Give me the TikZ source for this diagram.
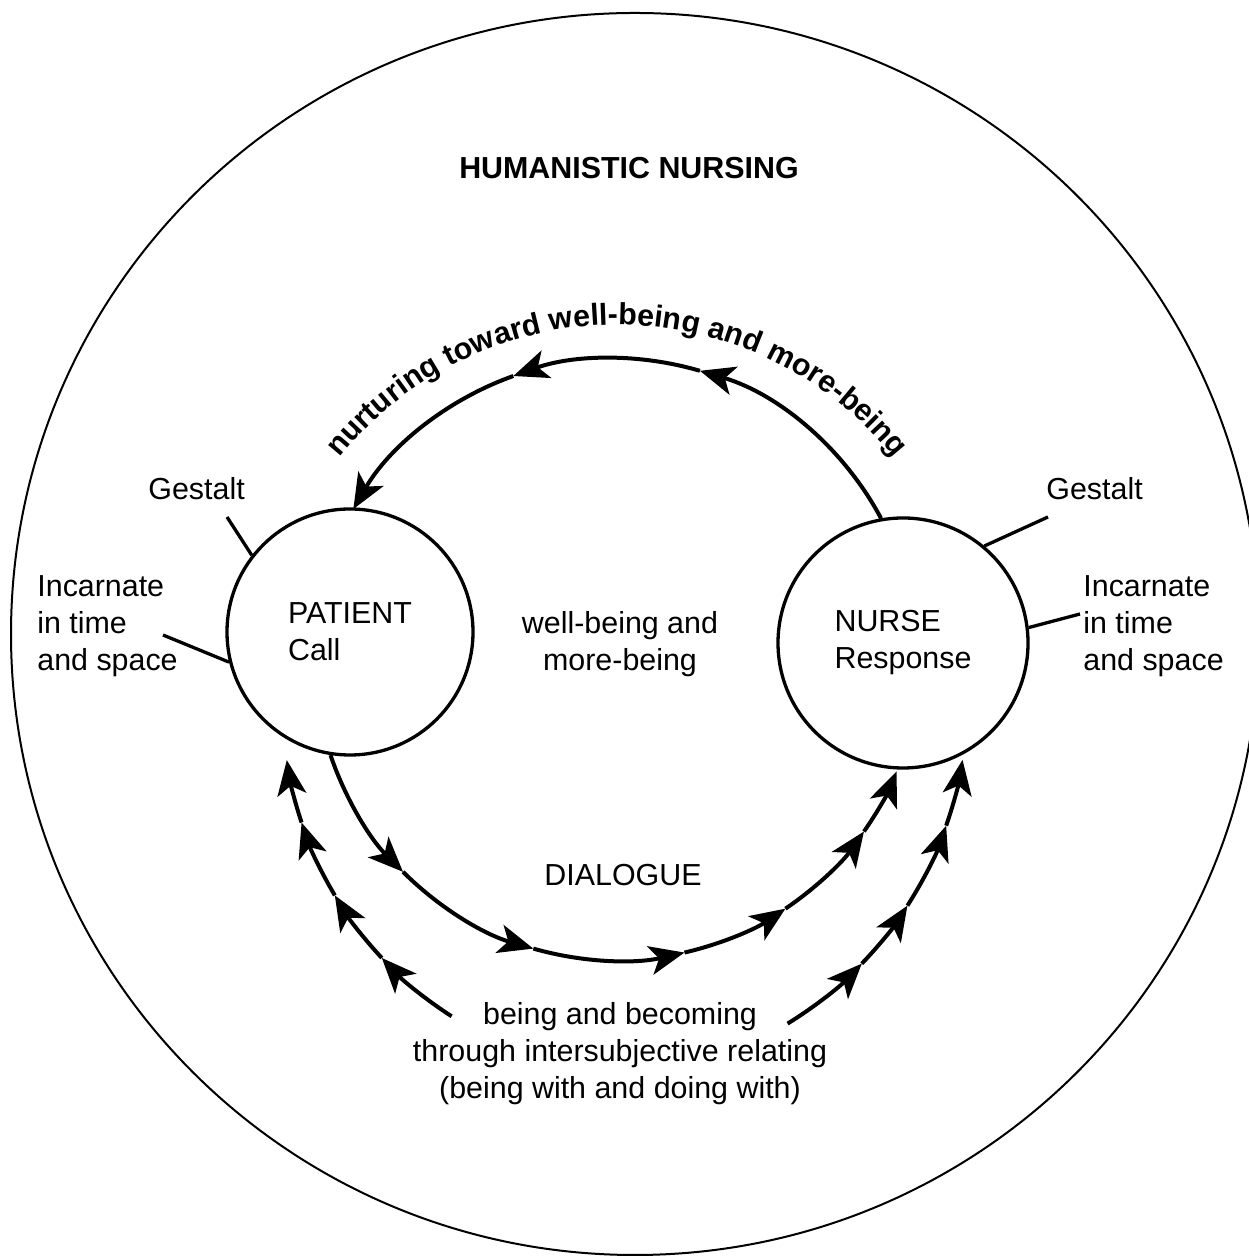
\documentclass[tikz,border=0pt]{standalone}
\usepackage{fontspec}
\setmainfont{Liberation Sans}
\usetikzlibrary{arrows.meta,decorations.text,calc}
\tikzset{
  lbl/.style={font=\fontsize{15.2}{18.5}\selectfont, inner sep=0pt},
  bubble/.style={circle, draw, line width=1.65pt, inner sep=0pt, align=left,
                 font=\fontsize{15.2}{18.5}\selectfont},
  arr/.style={line width=2pt, -{Stealth[length=17.5pt,width=14.5pt,inset=4.5pt]}},
  tick/.style={line width=1.65pt},
  outerring/.style={line width=1pt}
}
\begin{document}
\begin{tikzpicture}[x=0.5pt,y=0.5pt]
\useasboundingbox (0,0) rectangle (1248,1256);
% outer ring
\draw[outerring] (635,622) ellipse [x radius=624, y radius=621];
% title
\node[lbl, font=\fontsize{15.2}{18.5}\selectfont\bfseries, anchor=base] (title) at (629,1077) {HUMANISTIC NURSING};
% the two persons
\node[bubble, minimum size=123pt] (patient) at (350,624) {PATIENT\\Call};
\node[bubble, minimum size=125pt] (nurse) at (903,613) {NURSE\\Response};
% centre labels
\node[lbl, anchor=north, align=center] (wb) at (620,644.5) {well-being and\\more-being};
\node[lbl, anchor=base] (dialogue) at (623,370) {DIALOGUE};
\node[lbl, anchor=north, align=center] (bb) at (620,253.5) {being and becoming\\through intersubjective relating\\(being with and doing with)};
% side labels
\node[lbl, anchor=base west] (gestaltL) at (148,756) {Gestalt};
\node[lbl, anchor=base west] (gestaltR) at (1046,756) {Gestalt};
\node[lbl, anchor=north west, align=left] (incL) at (37,680.5) {Incarnate\\in time\\and space};
\node[lbl, anchor=north west, align=left] (incR) at (1083,680.5) {Incarnate\\in time\\and space};
% ticks
\coordinate (gl) at (227,739);
\coordinate (il) at (163,621);
\coordinate (gr) at (1048,739);
\coordinate (ir) at (1080,642);
\draw[tick] (patient.142) -- (gl);
\draw[tick] (patient.194) -- (il);
\draw[tick] (nurse.50) -- (gr);
\draw[tick] (nurse.7) -- (ir);
% top arc: nurse -> patient
\draw[arr] (nurse.100.6) arc[start angle=28.1,end angle=73.6,radius=302] coordinate (t1);
\draw[arr] (t1) arc[start angle=73.6,end angle=109.6,radius=302] coordinate (t2);
\draw[arr] (t2) arc[start angle=109.6,end angle=149.9,radius=302];
% curved text
\coordinate (tc) at (617,575);
\path[decorate, decoration={text along path,
   text={|\fontsize{15.2}{18}\selectfont\bfseries|nurturing toward well-being and more-being},
   text align=center}]
   ($(tc)+(160:356)$) arc[start angle=160,end angle=20,radius=356];
% bottom arc: patient -> nurse
\draw[arr] (patient.261) arc[start angle=198.7,end angle=225,radius=302] coordinate (b1);
\draw[arr] (b1) arc[start angle=225,end angle=254,radius=302] coordinate (b2);
\draw[arr] (b2) arc[start angle=254,end angle=283,radius=302] coordinate (b3);
\draw[arr] (b3) arc[start angle=283,end angle=304,radius=302] coordinate (b4);
\draw[arr] (b4) arc[start angle=304,end angle=325,radius=302] coordinate (b5);
\draw[arr] (b5) arc[start angle=325,end angle=338,radius=302];
% left chain
\coordinate (l0) at (451.6,239.7);
\draw[arr] (l0) arc[start angle=237.2,end angle=223,radius=368] coordinate (l1);
\draw[arr] (l1) arc[start angle=223,end angle=210.8,radius=368] coordinate (l2);
\draw[arr] (l2) arc[start angle=210.8,end angle=198.3,radius=368] coordinate (l3);
\draw[arr] (l3) arc[start angle=198.3,end angle=188.3,radius=368];
% right chain
\coordinate (r0) at (787.6,232.4);
\draw[arr] (r0) arc[start angle=-58.3,end angle=-43.8,radius=378] coordinate (r1);
\draw[arr] (r1) arc[start angle=-43.8,end angle=-32.6,radius=378] coordinate (r2);
\draw[arr] (r2) arc[start angle=-32.6,end angle=-19.1,radius=378] coordinate (r3);
\draw[arr] (r3) arc[start angle=-19.1,end angle=-8.8,radius=378];
\end{tikzpicture}
\end{document}
